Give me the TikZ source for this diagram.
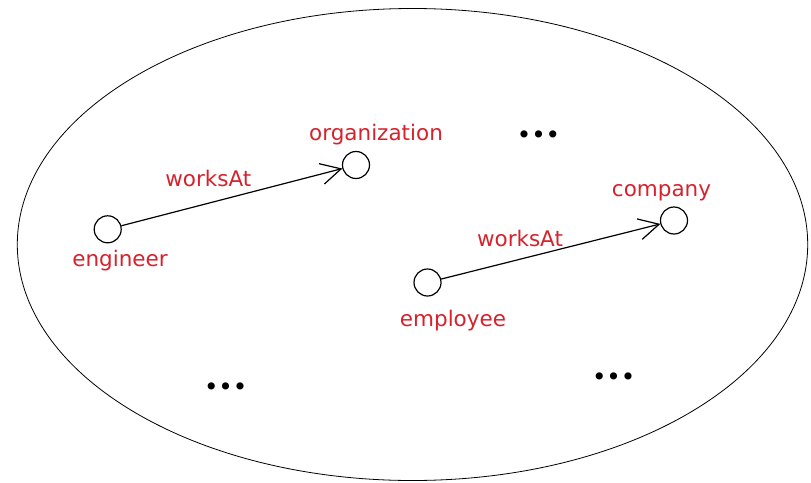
\documentclass[tikz,border=0pt]{standalone}
\usepackage{fontspec}
\setmainfont{DejaVu Sans}
\usetikzlibrary{arrows.meta}
\definecolor{labelred}{RGB}{214,34,44}

\begin{document}
\begin{tikzpicture}[
        x=1pt, y=-1pt,
        concept/.style={draw=black, circle, line width=1.2pt, minimum size=27pt, inner sep=0pt},
        lbl/.style={text=labelred, anchor=base, inner sep=0pt, font=\fontsize{21.5}{26}\selectfont},
        etc/.style={inner sep=0pt, font=\fontsize{24.5}{28}\selectfont},
        every path/.append style={line width=1.2pt}
    ]
        \useasboundingbox (0,0) rectangle (811,482);
        \draw[line width=0.8pt] (412.5,244.5) ellipse [x radius=395.2pt, y radius=236pt];

        \node[concept] (engineer) at (107.7,229.3) {};
        \node[concept] (organization) at (356,165) {};
        \node[concept] (employee) at (427.5,282.5) {};
        \node[concept] (company) at (674,220.5) {};

        \node[lbl] (engineerLabel) at (120,266) {engineer};
        \node[lbl] (organizationLabel) at (376,140) {organization};
        \node[lbl] (employeeLabel) at (453,326) {employee};
        \node[lbl] (companyLabel) at (661.5,196) {company};
        \node[lbl] (worksAtA) at (208.3,186) {worksAt};
        \node[lbl] (worksAtB) at (520,246) {worksAt};

        \node[etc] (moreA) at (538.5,137) {•••};
        \node[etc] (moreB) at (613.7,379.5) {•••};
        \node[etc] (moreC) at (225.7,388.8) {•••};

        \draw[-{Straight Barb[length=20pt,width=21pt]}] (engineer) -- (organization);
        \draw[-{Straight Barb[length=20pt,width=21pt]}] (employee) -- (company);
    \end{tikzpicture}
\end{document}
